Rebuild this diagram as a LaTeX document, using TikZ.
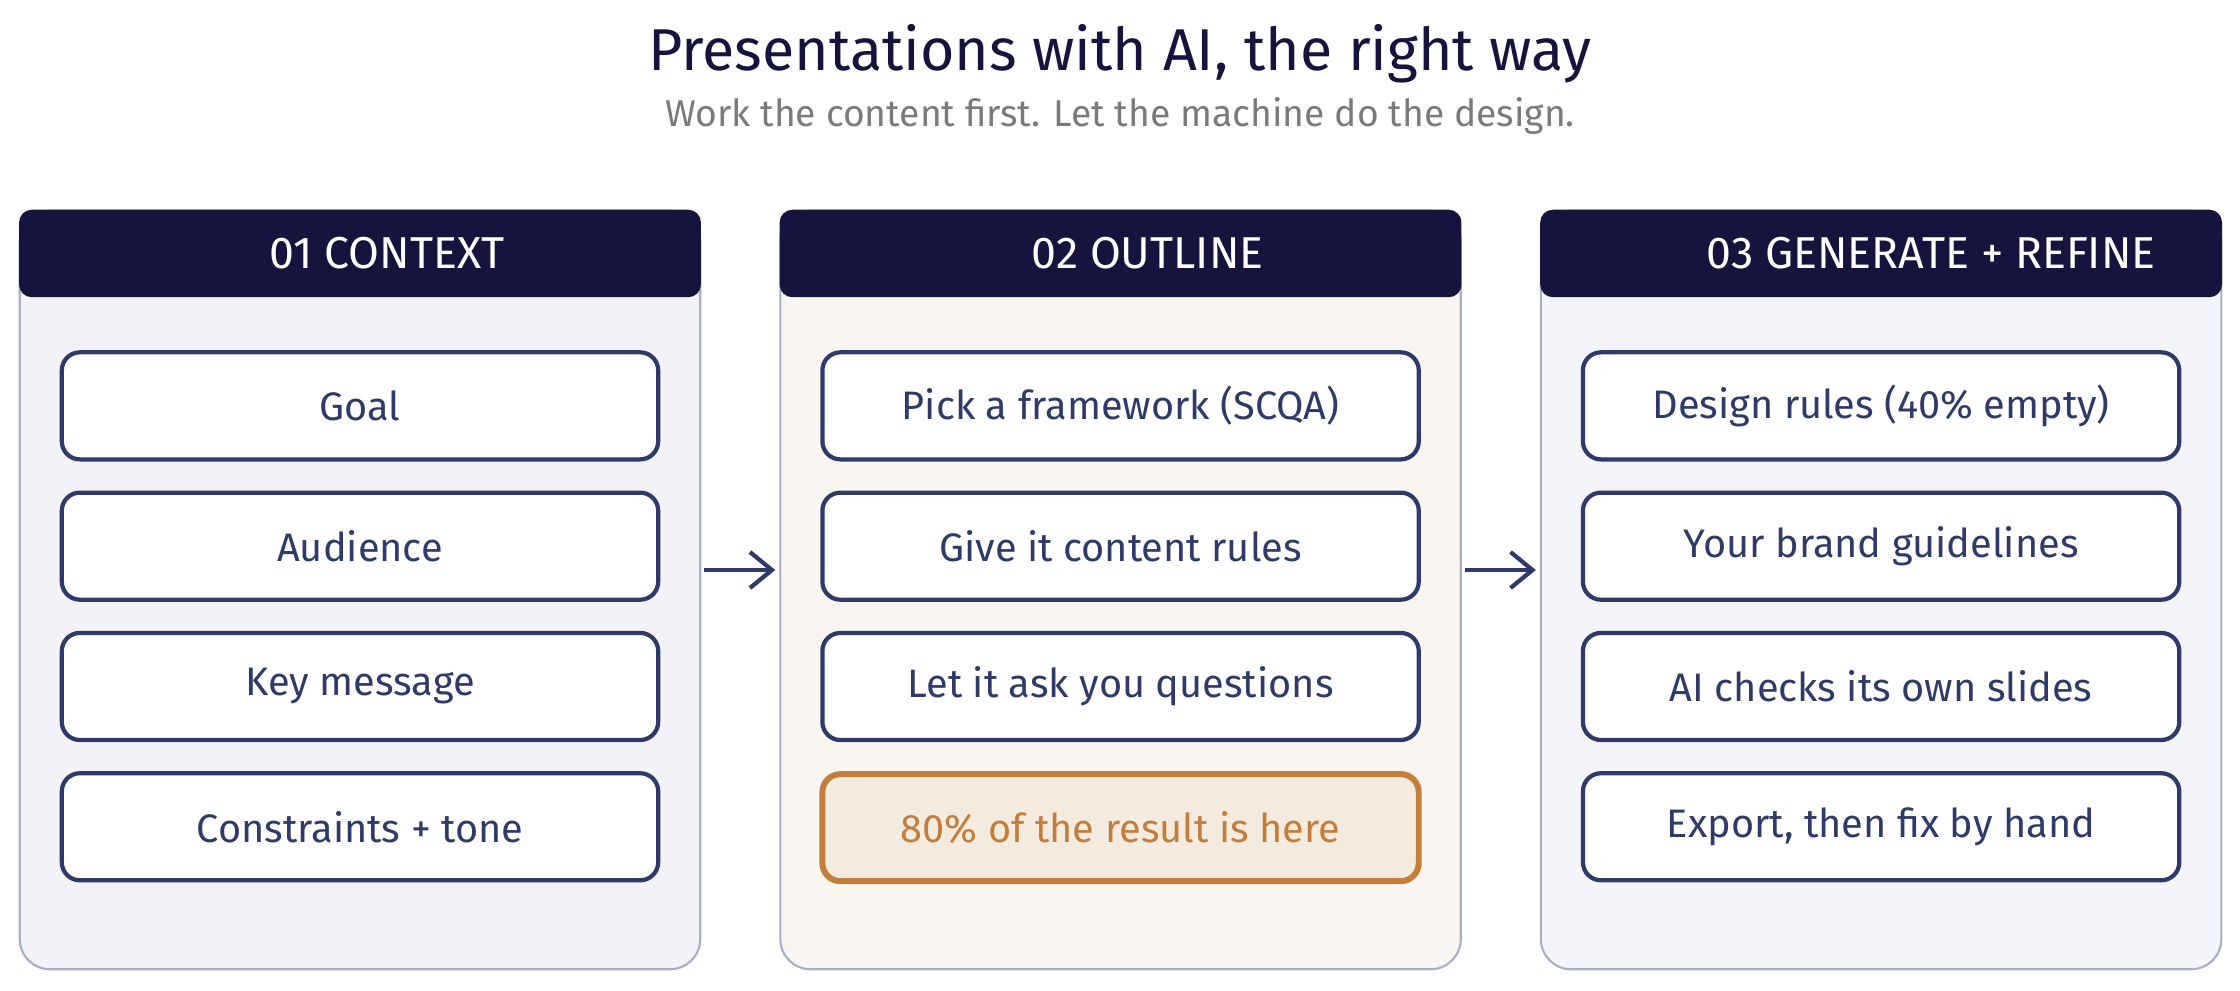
\documentclass[tikz,border=0pt]{standalone}
\usepackage{fontspec}
\setmainfont{Fira Sans}
\usetikzlibrary{positioning, arrows.meta}

\definecolor{ink}{HTML}{16133D}
\definecolor{boxline}{HTML}{2E3B69}
\definecolor{frame}{HTML}{A8AEC5}
\definecolor{fillA}{HTML}{F2F2F8}
\definecolor{fillB}{HTML}{F9F6F1}
\definecolor{fillC}{HTML}{F3F5FA}
\definecolor{amber}{HTML}{C47E3C}
\definecolor{amberfill}{HTML}{F3EBDF}
\definecolor{subgrey}{HTML}{7A7A7A}

\tikzstyle{column} = [
    rectangle,
    rounded corners=0.3cm,
    minimum width=6.8cm,
    minimum height=7.58cm,
    draw=frame,
    line width=0.6pt
]
\tikzstyle{header} = [
    rectangle,
    rounded corners=0.12cm,
    minimum width=6.8cm,
    minimum height=0.86cm,
    fill=ink,
    draw=ink
]
\tikzstyle{headtext} = [
    text=white,
    font=\fontsize{12.7}{15}\selectfont
]
\tikzstyle{item} = [
    rectangle,
    rounded corners=0.18cm,
    minimum width=5.96cm,
    minimum height=1.07cm,
    draw=boxline,
    line width=1.2pt,
    fill=white,
    text=boxline,
    font=\fontsize{11.3}{13}\selectfont
]
\tikzstyle{hilite} = [
    item,
    draw=amber,
    fill=amberfill,
    text=amber,
    line width=1.7pt
]
\tikzstyle{arrow} = [line width=1.2pt, draw=boxline, -{Straight Barb[length=2.2mm, width=3.6mm]}]

\begin{document}
\begin{tikzpicture}[x=0.01cm, y=-0.01cm, node distance=0.29cm]
\useasboundingbox (0,0) rectangle (2240,990);

\node (title) [text=ink, font=\fontsize{16.8}{20}\selectfont] at (1120,54)
{Presentations with AI, the right way};
\node (subtitle) [text=subgrey, font=\fontsize{10.6}{13}\selectfont] at (1120,116)
{Work the content first. Let the machine do the design.};

% columns
\node (col1) [column, fill=fillA] at (360,590) {};
\node (col2) [column, fill=fillB, right=0.78cm of col1] {};
\node (col3) [column, fill=fillC, right=0.78cm of col2] {};

\node (head1) [header, anchor=north] at (col1.north) {};
\node (head2) [header, anchor=north] at (col2.north) {};
\node (head3) [header, anchor=north] at (col3.north) {};

\node (head1text) [headtext] at ([xshift=0.27cm]head1.center) {01 CONTEXT};
\node (head2text) [headtext] at ([xshift=0.27cm]head2.center) {02 OUTLINE};
\node (head3text) [headtext] at ([xshift=0.5cm]head3.center) {03 GENERATE + REFINE};

% 01 context
\node (goal) [item, below=0.53cm of head1] {Goal};
\node (audience) [item, below=of goal] {Audience};
\node (message) [item, below=of audience] {Key message};
\node (tone) [item, below=of message] {Constraints + tone};

% 02 outline
\node (framework) [item, below=0.53cm of head2] {Pick a framework (SCQA)};
\node (rules) [item, below=of framework] {Give it content rules};
\node (questions) [item, below=of rules] {Let it ask you questions};
\node (result) [hilite, below=of questions] {80\% of the result is here};

% 03 generate + refine
\node (design) [item, below=0.53cm of head3] {Design rules (40\% empty)};
\node (brand) [item, below=of design] {Your brand guidelines};
\node (checks) [item, below=of brand] {AI checks its own slides};
\node (export) [item, below=of checks] {Export, then fix by hand};

\draw [arrow] ([xshift=0.03cm, yshift=0.2cm]col1.east) -- ([xshift=-0.04cm, yshift=0.2cm]col2.west);
\draw [arrow] ([xshift=0.03cm, yshift=0.2cm]col2.east) -- ([xshift=-0.04cm, yshift=0.2cm]col3.west);

\end{tikzpicture}
\end{document}
